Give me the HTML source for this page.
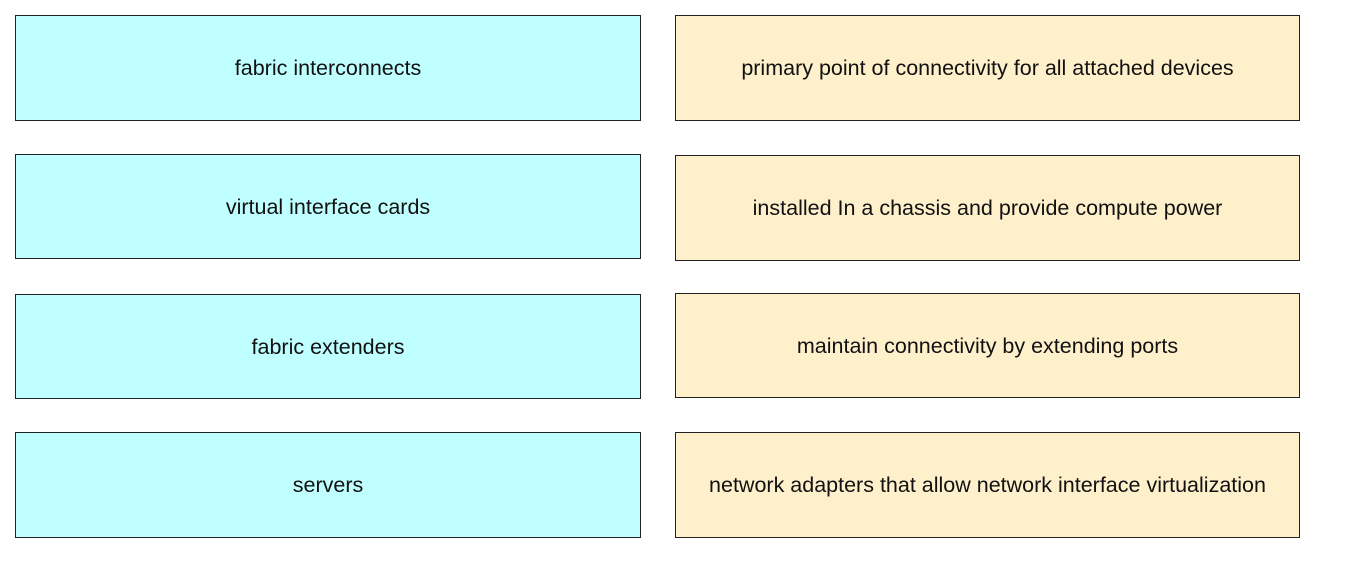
<!DOCTYPE html>
<html><head><style>
body{margin:0;width:1345px;height:564px;background:#fff;position:relative;overflow:hidden;font-family:"Liberation Sans",sans-serif}
.b{position:absolute;box-sizing:border-box;border:1px solid #222;display:flex;align-items:center;justify-content:center;font-size:21.5px;color:#111;padding-top:1px}
.l{left:15px;width:626px;background:#c0ffff}
.r{left:675px;width:625px;background:#fff0cc}
</style></head><body>
<div class="b l" style="top:15px;height:106px">fabric interconnects</div>
<div class="b l" style="top:154px;height:105px">virtual interface cards</div>
<div class="b l" style="top:294px;height:105px">fabric extenders</div>
<div class="b l" style="top:432px;height:106px">servers</div>
<div class="b r" style="top:15px;height:106px">primary point of connectivity for all attached devices</div>
<div class="b r" style="top:155px;height:106px">installed In a chassis and provide compute power</div>
<div class="b r" style="top:293px;height:105px">maintain connectivity by extending ports</div>
<div class="b r" style="top:432px;height:106px">network adapters that allow network interface virtualization</div>
</body></html>
